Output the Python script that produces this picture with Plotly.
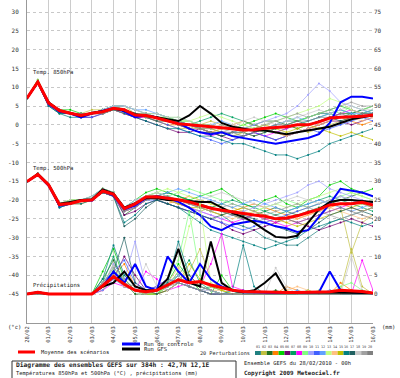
import plotly.graph_objects as go

# ---------------- DATA ----------------
hours = [0, 12, 24, 36, 48, 60, 72, 84, 96, 108, 120, 132, 144, 156, 168, 180, 192,
         204, 216, 228, 240, 252, 264, 276, 288, 300, 312, 324, 336, 348, 360, 372, 384]
day_ticks = [0, 24, 48, 72, 96, 120, 144, 168, 192, 216, 240, 264, 288, 312, 336, 360, 384]
day_labels = ["28/02", "01/03", "02/03", "03/03", "04/03", "05/03", "06/03", "07/03", "08/03",
              "09/03", "10/03", "11/03", "12/03", "13/03", "14/03", "15/03", "16/03"]
temp_ticks = [30, 25, 20, 15, 10, 5, 0, -5, -10, -15, -20, -25, -30, -35, -40, -45]
precip_ticks = [75, 70, 65, 60, 55, 50, 45, 40, 35, 30, 25, 20, 15, 10, 5, 0]

# ensemble mean
t850_mean = [7.1, 11.4, 5.8, 3.8, 3.1, 2.5, 3.1, 3.5, 4.4, 4.0, 2.6, 2.5, 1.8, 1.0, 0.3, 0.0, -0.2,
             -0.5, -0.8, -1.2, -1.4, -1.3, -0.9, -0.7, -0.5, 0.0, 0.0, 0.8, 1.8, 2.0, 2.1, 2.3, 2.6]
t500_mean = [-15.1, -13.2, -16.0, -21.2, -20.9, -20.2, -20.0, -17.6, -18.5, -22.3, -21.0, -19.2, -19.1,
             -19.4, -19.9, -20.5, -21.3, -22.2, -22.7, -23.2, -23.6, -24.0, -24.3, -25.0, -24.8, -24.2,
             -23.3, -22.5, -21.3, -21.0, -21.0, -20.6, -21.3]
rr_mean = [0, 0.5, 0, 0, 0, 0, 0, 2.2, 4.6, 2.6, 1.0, 0.6, 1.0, 2.4, 3.8, 3.0, 3.3,
           2.4, 1.6, 1.0, 0.7, 0.6, 0.5, 0.4, 0.4, 0.4, 0.5, 0.5, 0.6, 1.0, 0.9, 0.7, 0.3]

# control run
t850_ctrl = [7.1, 11.3, 5.5, 3.5, 3.0, 2.0, 3.0, 3.8, 4.5, 3.5, 2.0, 2.5, 2.0, 1.0, 0.5, -1.0, -2.0,
             -2.5, -2.0, -3.0, -3.5, -4.0, -4.5, -5.0, -4.5, -4.0, -3.5, -2.5, 0.5, 6.0, 7.5, 7.5, 7.0]
t500_ctrl = [-15.1, -13.3, -16.2, -21.5, -21.0, -20.0, -20.2, -17.5, -18.8, -22.5, -21.5, -19.5, -19.0,
             -19.5, -20.5, -22.0, -24.0, -27.0, -28.0, -26.5, -26.0, -25.5, -26.0, -27.0, -27.5, -28.5,
             -28.0, -24.5, -21.0, -17.0, -17.5, -18.0, -19.0]
rr_ctrl = [0, 0.5, 0, 0, 0, 0, 0, 2, 6, 3, 8, 2, 1, 10, 6, 3, 8,
           4, 2, 1, 0.5, 0.5, 0.3, 0.3, 0.3, 0.3, 0.5, 0.5, 6, 1, 0.5, 0.3, 0.2]

# deterministic GFS run
t850_gfs = [7.1, 11.5, 6.0, 3.8, 3.2, 2.3, 3.2, 3.6, 4.3, 3.8, 2.8, 2.5, 2.0, 1.5, 1.0, 2.5, 5.0,
            3.0, 0.5, -0.5, -1.0, -1.5, -1.5, -2.0, -2.5, -2.0, -1.5, -1.0, -0.5, 0.5, 1.5, 2.0, 2.5]
t500_gfs = [-15.1, -13.0, -15.8, -21.0, -20.5, -20.0, -19.8, -17.2, -18.3, -22.0, -20.8, -19.5, -19.5,
            -20.0, -20.0, -20.3, -20.5, -20.5, -22.0, -23.5, -24.5, -26.0, -28.0, -29.8, -30.0, -29.5,
            -26.0, -22.5, -20.5, -20.0, -20.0, -20.3, -20.5]
rr_gfs = [0, 0.5, 0, 0, 0, 0, 0, 2, 3, 6, 2, 1, 1, 4, 12, 3, 2,
          14, 3, 1, 0.5, 1, 3, 5.5, 0.6, 0.5, 0.5, 0.5, 0.5, 0.5, 0.5, 0.5, 0.3]

pert_names = ["01", "02", "03", "04", "05", "06", "07", "08", "09", "10",
              "11", "12", "13", "14", "15", "16", "17", "18", "19", "20"]
pert_colors = ["#208080", "#c0c040", "#207020", "#ff8000", "#00d000", "#700070", "#00a060",
               "#ff00ff", "#80ff80", "#a0a0ff", "#4060ff", "#60a0ff", "#c0ff80", "#ffc080",
               "#c0c000", "#008080", "#206060", "#c8c8c8", "#a0a0a0", "#808080"]

t850_pert = [
    [7, 11, 6, 4, 3, 2, 3, 4, 5, 4, 3, 3, 2, 1, 0, -1, -1, -2, -2, -3, -3, -2, -1, 0, 1, 1, 2, 3, 3, 4, 3, 2, 3],
    [7, 12, 6, 4, 3, 3, 4, 4, 5, 5, 3, 2, 1, 0, -1, -1, 0, 1, 0, -1, -2, -3, -2, -1, 0, -1, -2, -1, 0, 1, 2, 3, 4],
    [7, 11, 5, 3, 3, 2, 3, 3, 4, 4, 2, 3, 3, 2, 1, 0, -1, -2, -3, -2, -1, 0, 1, 1, 0, -1, 0, 1, 2, 3, 3, 4, 5],
    [7, 11, 6, 4, 3, 3, 3, 4, 4, 3, 2, 2, 1, 0, 0, -1, -2, -2, -1, 0, 1, 0, -1, -2, -3, -2, -1, 0, 1, 2, 1, 0, 1],
    [7, 12, 6, 4, 4, 3, 3, 4, 5, 5, 4, 3, 2, 2, 1, 1, 0, 0, -1, -1, 0, 1, 2, 3, 2, 1, 2, 3, 4, 5, 4, 3, 4],
    [7, 11, 5, 4, 3, 2, 2, 3, 4, 3, 2, 1, 0, -1, -2, -2, -1, -2, -3, -4, -3, -2, -3, -4, -3, -2, -1, 0, 1, 1, 0, 1, 2],
    [7, 11, 6, 3, 3, 2, 3, 4, 5, 4, 3, 3, 2, 1, 1, 0, 1, 2, 3, 2, 1, 0, -1, -2, -1, 0, 1, 2, 3, 2, 3, 4, 3],
    [7, 11, 6, 4, 3, 2, 3, 3, 4, 3, 2, 2, 2, 1, 0, -1, -2, -3, -2, -1, -1, -2, -3, -2, -1, 0, 0, 1, 2, 3, 4, 3, 2],
    [7, 12, 6, 4, 3, 3, 3, 4, 5, 4, 3, 3, 3, 2, 2, 1, 0, -1, -2, -1, 0, -1, -2, -1, 0, 1, 2, 3, 4, 3, 5, 4, 5],
    [7, 11, 5, 4, 3, 2, 3, 4, 5, 5, 4, 3, 2, 1, 0, 0, -1, -1, -2, -2, -1, 0, 1, 2, 3, 5, 8, 11, 9, 6, 5, 4, 3],
    [7, 11, 6, 4, 3, 2, 2, 3, 4, 4, 3, 2, 1, 0, -1, -2, -3, -4, -5, -4, -3, -2, -3, -4, -3, -2, -1, -2, -1, 0, 1, 2, 1],
    [7, 11, 6, 4, 3, 2, 3, 4, 5, 5, 4, 4, 3, 2, 1, 0, -1, 0, 1, 0, -1, -2, -1, 0, 1, 2, 1, 2, 3, 4, 3, 3, 4],
    [7, 11, 6, 4, 3, 3, 3, 4, 4, 4, 3, 3, 2, 2, 1, 1, 2, 3, 2, 1, 0, -1, 0, 1, 2, 3, 4, 5, 7, 6, 4, 3, 2],
    [7, 11, 6, 4, 3, 2, 3, 3, 4, 3, 3, 2, 1, 1, 0, -1, -1, -2, -1, 0, -1, -2, -1, -2, -3, -2, -1, 0, 1, 2, 2, 1, 2],
    [7, 11, 6, 4, 3, 2, 3, 3, 4, 4, 3, 2, 2, 1, 0, 0, -1, -1, -2, -3, -2, -1, 0, -1, -2, -1, 0, -1, -2, -3, -2, -3, -4],
    [7, 11, 5, 3, 2, 2, 3, 3, 4, 3, 2, 1, 0, -1, -1, -2, -3, -3, -4, -5, -5, -6, -7, -8, -8, -9, -8, -7, -5, -4, -3, -2, -1],
    [7, 11, 6, 4, 3, 3, 3, 4, 4, 4, 3, 2, 1, 1, 0, -1, -2, -2, -3, -2, -2, -3, -2, -1, 0, 1, 0, 1, 2, 1, 2, 3, 3],
    [7, 11, 6, 4, 3, 2, 3, 4, 5, 5, 4, 3, 3, 2, 2, 1, 0, 0, -1, 0, 1, 2, 1, 0, 1, 2, 3, 4, 3, 4, 5, 4, 4],
    [7, 11, 6, 4, 3, 2, 3, 3, 4, 4, 3, 3, 2, 1, 0, 0, -1, -1, 0, -1, -2, -1, 0, 1, 2, 3, 2, 3, 4, 5, 6, 5, 5],
    [7, 11, 6, 4, 3, 3, 3, 3, 4, 4, 3, 2, 2, 1, 0, 0, -1, -2, -2, -2, -3, -2, -1, 0, 0, 1, 1, 2, 2, 3, 2, 3, 3],
]

t500_pert = [
    [-15, -13, -16, -21, -21, -20, -20, -17, -19, -23, -21, -19, -18, -19, -20, -21, -22, -23, -24, -26, -27, -28, -30, -31, -32, -32, -30, -28, -26, -25, -24, -23, -22],
    [-15, -13, -16, -21, -20, -20, -20, -18, -18, -22, -21, -19, -19, -20, -21, -22, -23, -22, -21, -22, -23, -24, -25, -26, -24, -23, -22, -21, -20, -22, -34, -26, -24],
    [-15, -13, -16, -22, -21, -20, -20, -17, -18, -24, -22, -20, -19, -18, -19, -20, -21, -22, -23, -24, -25, -24, -23, -22, -23, -24, -23, -22, -21, -20, -19, -18, -19],
    [-15, -13, -16, -21, -21, -21, -20, -18, -19, -22, -21, -19, -20, -21, -20, -19, -20, -21, -22, -23, -22, -21, -22, -23, -24, -25, -24, -23, -22, -21, -22, -23, -22],
    [-15, -13, -16, -21, -20, -20, -19, -17, -18, -22, -20, -18, -17, -18, -19, -20, -19, -18, -17, -19, -21, -22, -20, -19, -21, -22, -20, -19, -16, -15, -17, -18, -17],
    [-15, -13, -16, -21, -21, -20, -20, -18, -19, -24, -23, -21, -20, -21, -22, -23, -24, -25, -26, -28, -29, -28, -27, -26, -25, -26, -27, -28, -27, -26, -25, -26, -27],
    [-15, -13, -16, -21, -21, -20, -20, -17, -18, -22, -21, -19, -19, -18, -19, -20, -21, -22, -21, -20, -21, -22, -23, -24, -23, -22, -21, -20, -19, -20, -21, -22, -23],
    [-15, -13, -16, -21, -21, -20, -20, -18, -19, -23, -22, -20, -19, -20, -21, -22, -23, -24, -25, -26, -25, -24, -25, -26, -27, -26, -25, -24, -23, -22, -21, -20, -21],
    [-15, -13, -16, -21, -20, -20, -20, -17, -18, -22, -21, -19, -18, -19, -18, -17, -18, -19, -20, -21, -22, -23, -22, -21, -20, -21, -22, -21, -20, -19, -18, -19, -20],
    [-15, -13, -16, -21, -21, -20, -20, -18, -19, -23, -21, -19, -19, -20, -21, -22, -23, -24, -25, -24, -23, -22, -21, -20, -19, -18, -16, -15, -17, -18, -19, -20, -21],
    [-15, -13, -16, -22, -21, -20, -20, -18, -19, -23, -22, -20, -20, -21, -22, -23, -24, -25, -26, -27, -28, -27, -26, -25, -24, -23, -22, -21, -20, -19, -20, -21, -22],
    [-15, -13, -16, -21, -21, -20, -19, -17, -18, -22, -20, -19, -19, -18, -17, -18, -19, -20, -21, -22, -21, -20, -21, -22, -23, -22, -21, -20, -21, -22, -23, -22, -21],
    [-15, -13, -16, -21, -20, -20, -20, -17, -18, -22, -21, -19, -18, -17, -18, -19, -20, -21, -22, -23, -24, -23, -22, -21, -22, -21, -20, -19, -18, -17, -18, -19, -20],
    [-15, -13, -16, -21, -21, -20, -20, -18, -18, -23, -22, -20, -19, -20, -21, -21, -22, -23, -24, -25, -24, -23, -24, -25, -26, -25, -24, -23, -22, -23, -24, -25, -24],
    [-15, -13, -16, -21, -21, -20, -20, -17, -19, -22, -21, -19, -19, -20, -21, -22, -22, -23, -24, -23, -22, -23, -24, -25, -26, -27, -26, -25, -24, -23, -22, -21, -22],
    [-15, -13, -16, -22, -21, -21, -20, -18, -19, -26, -24, -21, -20, -21, -22, -24, -26, -28, -29, -30, -31, -32, -33, -32, -31, -30, -28, -27, -26, -25, -26, -27, -26],
    [-15, -13, -16, -21, -21, -20, -20, -18, -19, -27, -25, -22, -20, -21, -22, -23, -24, -25, -24, -23, -24, -25, -26, -27, -28, -29, -28, -26, -24, -23, -22, -23, -24],
    [-15, -13, -16, -21, -20, -20, -19, -17, -18, -22, -20, -19, -18, -19, -20, -21, -20, -19, -18, -19, -20, -21, -22, -21, -20, -19, -20, -21, -20, -19, -20, -21, -20],
    [-15, -13, -16, -21, -21, -20, -20, -17, -18, -23, -21, -19, -19, -20, -20, -21, -22, -23, -22, -21, -22, -23, -24, -23, -22, -21, -22, -23, -24, -25, -24, -23, -22],
    [-15, -13, -16, -21, -21, -20, -20, -18, -19, -23, -22, -20, -19, -19, -20, -21, -22, -22, -23, -24, -25, -26, -25, -24, -25, -26, -25, -24, -23, -22, -23, -24, -25],
]

rr_pert = [
    [0, 0, 0, 0, 0, 0, 0, 3, 6, 2, 1, 0, 1, 3, 5, 2, 1, 2, 1, 0, 1, 0, 0, 0, 0, 0, 0, 0, 1, 0, 1, 0, 0],
    [0, 0, 0, 0, 0, 0, 0, 2, 8, 4, 1, 0, 0, 2, 4, 6, 12, 4, 1, 0, 0, 0, 0, 0, 1, 0, 0, 0, 0, 1, 12, 2, 0],
    [0, 0, 0, 0, 0, 0, 0, 4, 9, 3, 0, 0, 1, 2, 6, 3, 2, 1, 0, 0, 0, 0, 0, 1, 0, 0, 0, 0, 0, 0, 1, 0, 0],
    [0, 0, 0, 0, 0, 0, 0, 1, 5, 8, 2, 1, 0, 1, 3, 5, 2, 1, 0, 0, 0, 0, 0, 0, 2, 1, 0, 0, 0, 3, 1, 0, 0],
    [0, 0, 0, 0, 0, 0, 0, 6, 12, 4, 1, 0, 0, 3, 8, 4, 1, 0, 5, 1, 0, 0, 0, 0, 0, 0, 1, 0, 0, 0, 0, 1, 0],
    [0, 0, 0, 0, 0, 0, 0, 2, 4, 10, 5, 1, 2, 4, 3, 2, 1, 0, 0, 0, 0, 0, 0, 0, 0, 0, 0, 0, 0, 0, 0, 0, 0],
    [0, 0, 0, 0, 0, 0, 0, 3, 10, 2, 1, 0, 0, 2, 5, 9, 3, 1, 0, 0, 1, 0, 0, 0, 0, 0, 0, 0, 0, 1, 0, 0, 0],
    [0, 0, 0, 0, 0, 0, 0, 1, 3, 2, 1, 6, 4, 1, 2, 3, 2, 8, 16, 2, 1, 0, 0, 0, 0, 0, 0, 0, 0, 0, 0, 9, 1],
    [0, 0, 0, 0, 0, 0, 0, 2, 7, 3, 1, 0, 1, 4, 9, 22, 5, 1, 0, 0, 0, 0, 0, 0, 0, 0, 0, 1, 0, 2, 3, 1, 0],
    [0, 0, 0, 0, 0, 0, 0, 2, 8, 4, 14, 2, 1, 3, 5, 2, 1, 1, 0, 0, 0, 0, 0, 0, 0, 0, 0, 0, 1, 0, 0, 0, 0],
    [0, 0, 0, 0, 0, 0, 0, 3, 6, 9, 3, 1, 2, 4, 3, 2, 1, 0, 0, 0, 0, 0, 0, 0, 0, 0, 0, 0, 0, 0, 0, 0, 0],
    [0, 0, 0, 0, 0, 0, 0, 1, 4, 2, 1, 0, 1, 2, 4, 3, 2, 1, 0, 0, 0, 0, 0, 0, 0, 1, 0, 0, 0, 0, 0, 0, 0],
    [0, 0, 0, 0, 0, 0, 0, 2, 5, 3, 1, 0, 0, 2, 6, 18, 24, 3, 1, 0, 0, 0, 0, 0, 0, 0, 0, 0, 0, 0, 0, 0, 0],
    [0, 0, 0, 0, 0, 0, 0, 3, 5, 2, 1, 0, 1, 3, 7, 4, 2, 1, 1, 0, 0, 0, 0, 0, 1, 2, 1, 0, 0, 1, 0, 0, 0],
    [0, 0, 0, 0, 0, 0, 0, 2, 6, 3, 1, 0, 0, 1, 3, 8, 4, 2, 1, 0, 0, 0, 0, 0, 0, 0, 0, 0, 0, 0, 1, 0, 0],
    [0, 0, 0, 0, 0, 0, 0, 4, 13, 5, 2, 1, 1, 3, 14, 5, 2, 1, 0, 1, 13, 2, 0, 0, 0, 0, 0, 0, 0, 0, 0, 0, 0],
    [0, 0, 0, 0, 0, 0, 0, 2, 6, 15, 3, 1, 0, 1, 3, 2, 1, 0, 0, 0, 0, 0, 0, 0, 0, 0, 0, 0, 0, 0, 0, 0, 0],
    [0, 0, 0, 0, 0, 0, 0, 2, 5, 3, 1, 8, 2, 1, 3, 2, 1, 1, 0, 0, 0, 1, 0, 7, 2, 0, 0, 0, 0, 0, 10, 1, 0],
    [0, 0, 0, 0, 0, 0, 0, 3, 7, 4, 1, 0, 1, 2, 4, 3, 2, 1, 0, 0, 0, 0, 0, 0, 0, 0, 0, 0, 0, 0, 0, 0, 0],
    [0, 0, 0, 0, 0, 0, 0, 2, 5, 3, 2, 1, 1, 2, 3, 2, 1, 0, 0, 0, 0, 0, 0, 0, 0, 0, 0, 0, 0, 0, 0, 0, 0],
]

for nm, arr in [("t850", t850_pert), ("t500", t500_pert), ("rr", rr_pert)]:
    for i, s in enumerate(arr):
        if len(s) != len(hours):
            raise SystemExit(f"{nm} pert {i+1} has {len(s)} values")

# ---------------- LAYOUT GEOMETRY ----------------
W, H = 400, 378
L, R, T, B = 27, 373, 0, 323          # plot area in pixels
T_RANGE = [-52.7, 33.2]
P_OFFSET = 45                           # precip 0 mm sits at -45 °C
P_RANGE = [T_RANGE[0] + P_OFFSET, T_RANGE[1] + P_OFFSET]
FONT = "DejaVu Sans Mono"


def px(xp):
    return (xp - L) / (R - L)


def py(yp):
    return (B - yp) / (B - T)


fig = go.Figure()

for i in range(20):
    c = pert_colors[i]
    for ys, ax in [(t850_pert[i], "y"), (t500_pert[i], "y"), (rr_pert[i], "y2")]:
        fig.add_trace(go.Scatter(x=hours, y=ys, yaxis=ax, mode="lines+markers",
                                 line=dict(color=c, width=0.7), marker=dict(size=2, color=c),
                                 showlegend=False, hoverinfo="skip"))

for series, col, wd in [((t850_ctrl, t500_ctrl, rr_ctrl), "#0000ff", 2),
                        ((t850_gfs, t500_gfs, rr_gfs), "#000000", 2),
                        ((t850_mean, t500_mean, rr_mean), "#ff0000", 3)]:
    for ys, ax in [(series[0], "y"), (series[1], "y"), (series[2], "y2")]:
        fig.add_trace(go.Scatter(x=hours, y=ys, yaxis=ax, mode="lines",
                                 line=dict(color=col, width=wd), showlegend=False))

fig.update_layout(
    width=W, height=H,
    margin=dict(l=L, r=W - R, t=T, b=H - B, pad=0, autoexpand=False),
    paper_bgcolor="white", plot_bgcolor="white",
    font=dict(family=FONT, size=6, color="#222"),
    xaxis=dict(range=[0, 384], tickvals=day_ticks, ticktext=day_labels, tickangle=-90,
               showgrid=True, gridcolor="#cccccc", gridwidth=1, zeroline=False, automargin=False,
               showline=True, linecolor="#999999", ticks="", tickfont=dict(size=5.5, color="#333")),
    yaxis=dict(range=T_RANGE, tickvals=temp_ticks, ticktext=[str(v) for v in temp_ticks],
               showgrid=True, gridcolor="#c8c8c8", griddash="dot", zeroline=False, automargin=False,
               showline=True, linecolor="#999999", ticks="", ticklabelstandoff=6,
               tickfont=dict(size=6, color="#333")),
    yaxis2=dict(range=P_RANGE, tickvals=precip_ticks, ticktext=[str(v) for v in precip_ticks],
                overlaying="y", side="right", showgrid=False, zeroline=False, showline=False,
                automargin=False, ticks="", ticklabelstandoff=0, tickfont=dict(size=6, color="#333")),
)

ann = []


def text(xp, yp, s, size=5.5, anchor="left", bold=False, color="#222"):
    ann.append(dict(x=px(xp), y=py(yp), xref="paper", yref="paper", text=f"<b>{s}</b>" if bold else s,
                    showarrow=False, xanchor=anchor, yanchor="middle", borderpad=0,
                    font=dict(family=FONT, size=size, color=color)))


text(32, 73, "Temp. 850hPa", 5.6)
text(32, 168, "Temp. 500hPa", 5.6)
text(32, 285, "Précipitations", 5.6)
text(14, 327, "(°c)", 5.6, "center")
text(388, 327, "(mm)", 5.6, "center")
text(40, 352, "Moyenne des scénarios", 5.4)
text(143, 344, "Run de controle", 5.5)
text(143, 349, "Run GFS", 5.5)
text(199, 353, "20 Perturbations", 5.2)
text(15, 365, "Diagramme des ensembles GEFS sur 384h : 42,7N 12,1E", 6.3, bold=True)
text(15, 373, "Températures 850hPa et 500hPa (°C) , précipitations (mm)", 5.4)
text(243, 363, "Ensemble GEFS du 28/02/2010 - 00h", 5.4)
text(243, 373, "Copyright 2009 Meteociel.fr", 5.9, bold=True)

shapes = []


def seg(x0, x1, yp, col, wd):
    shapes.append(dict(type="line", xref="paper", yref="paper", x0=px(x0), x1=px(x1),
                       y0=py(yp), y1=py(yp), line=dict(color=col, width=wd)))


seg(18, 35, 352, "#ff0000", 3)
seg(122, 140, 344, "#0000ff", 3)
seg(122, 140, 349, "#000000", 3)

bx0 = 255.0
bw = 5.9
for i, c in enumerate(pert_colors):
    shapes.append(dict(type="rect", xref="paper", yref="paper", x0=px(bx0 + i * bw), x1=px(bx0 + (i + 1) * bw),
                       y0=py(355), y1=py(351), line=dict(width=0), fillcolor=c))
    ann.append(dict(x=px(bx0 + (i + 0.5) * bw), y=py(347), xref="paper", yref="paper", text=pert_names[i],
                    showarrow=False, font=dict(family=FONT, size=3.5, color="#444"), borderpad=0,
                    xanchor="center", yanchor="middle"))

shapes.append(dict(type="rect", xref="paper", yref="paper", x0=px(12), x1=px(236), y0=py(361), y1=py(379),
                   line=dict(color="#333", width=1), fillcolor="rgba(0,0,0,0)"))

fig.update_layout(annotations=ann, shapes=shapes)
fig.write_html("out.html", config={"displayModeBar": False, "staticPlot": True},
               post_script="document.body.style.margin='0';document.body.style.overflow='hidden';")
